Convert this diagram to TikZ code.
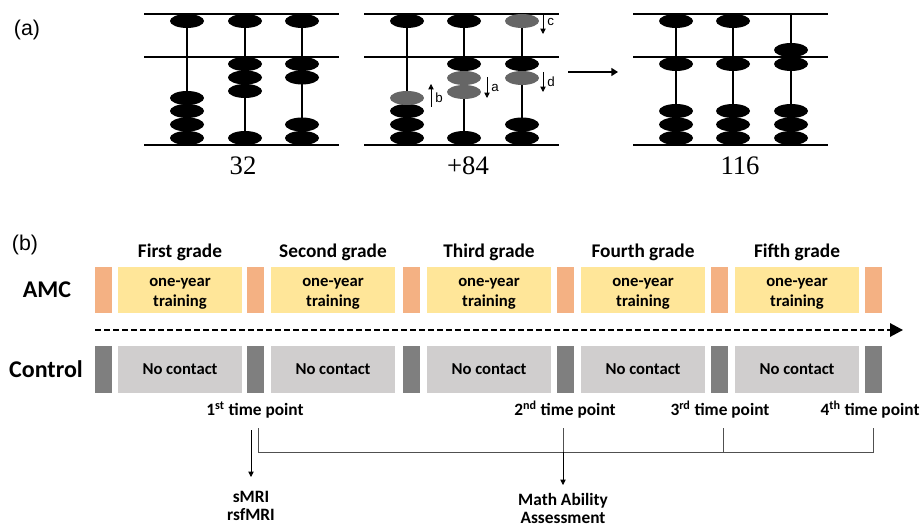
\documentclass[tikz,border=0pt]{standalone}
\usepackage{fontspec}
\setmainfont{Liberation Sans}
\newfontfamily\carlito{Carlito}
\newfontfamily\serifnum{Liberation Serif}
\usetikzlibrary{arrows.meta,positioning,calc}
\tikzset{every picture/.style={line width=0.75pt}}

\definecolor{amcorange}{HTML}{F4B183}
\definecolor{amcyellow}{HTML}{FFE699}
\definecolor{ctrlgray}{HTML}{D0CECE}
\definecolor{ctrldark}{HTML}{7F7F7F}
\definecolor{beadgray}{HTML}{666666}
\definecolor{bracketgray}{HTML}{505050}

\begin{document}
\begin{tikzpicture}[x=0.75pt,y=-0.75pt,
    frame/.style={line width=1.5pt},
    rod/.style={line width=1.3pt},
    movearrow/.style={line width=0.6pt,-{Triangle[length=4pt,width=4pt]}},
    moveletter/.style={font=\fontsize{10}{11}\selectfont,inner sep=1pt},
    cbfont/.style={font=\carlito\bfseries\fontsize{12.5}{15}\selectfont},
    amcside/.style={fill=amcorange,minimum width=12.75pt,minimum height=34.5pt,inner sep=0},
    ctrlside/.style={fill=ctrldark,minimum width=12.75pt,minimum height=35.25pt,inner sep=0},
    trainbox/.style={fill=amcyellow,minimum width=93pt,minimum height=34.5pt,inner sep=0},
    traintext/.style={cbfont,align=center,inner sep=0},
    nobox/.style={cbfont,fill=ctrlgray,minimum width=93pt,minimum height=35.25pt,inner sep=0},
    grade/.style={font=\carlito\bfseries\fontsize{14.5}{16}\selectfont,inner sep=0},
    rowlabel/.style={font=\carlito\bfseries\fontsize{18}{20}\selectfont},
    tplabel/.style={font=\carlito\bfseries\fontsize{13}{13.5}\selectfont,align=center,inner xsep=0},
    bracket/.style={draw=bracketgray,line width=0.75pt},
    tparrow/.style={line width=0.6pt,-{Triangle[length=4pt,width=4pt]}}]
    \useasboundingbox (0,0) rectangle (921,527);

    % 面板标签
    \node[font=\fontsize{16}{18}\selectfont] (pa) at (27,30) {(a)};
    \node[font=\fontsize{16}{18}\selectfont] (pb) at (25,245) {(b)};

    % 算盘框线和档
    \foreach \xa/\ra/\rb/\rc in {144/187/245/302, 364/407/464/522, 633/676/733/791}{
        \draw[frame] (\xa,14) -- ++(195,0);
        \draw[frame] (\xa,57) -- ++(195,0);
        \draw[frame] (\xa,145) -- ++(195,0);
        \foreach \r in {\ra,\rb,\rc}
            \draw[rod] (\r,14) -- (\r,145);
    }

    % 算珠: 32
    \foreach \x/\y in {187/21, 187/98, 187/111, 187/124.5, 187/138,
                       245/21, 245/64, 245/77.5, 245/91, 245/138,
                       302/21, 302/64, 302/77.5, 302/124.5, 302/138}
        \fill (\x,\y) ellipse [x radius=12.75pt, y radius=5.25pt];

    % 算珠: +84 (灰色为拨动的珠)
    \foreach \x/\y in {407/21, 407/111, 407/124.5, 407/138,
                       464/21, 464/64, 464/138,
                       522/64, 522/124.5, 522/138}
        \fill (\x,\y) ellipse [x radius=12.75pt, y radius=5.25pt];
    \foreach \x/\y in {407/98, 464/78, 464/92, 522/21, 522/78}
        \fill[beadgray] (\x,\y) ellipse [x radius=12.75pt, y radius=5.25pt];

    % 拨珠方向
    \draw[movearrow] (431,107) -- (431,84) node[pos=0.4,right=2pt,moveletter] {b};
    \draw[movearrow] (487,77) -- (487,98) node[pos=0.5,right=2pt,moveletter] {a};
    \draw[movearrow] (543,15) -- (543,34) node[pos=0.35,right=2pt,moveletter] {c};
    \draw[movearrow] (543,72) -- (543,92) node[pos=0.5,right=2pt,moveletter] {d};

    % 算珠: 116
    \foreach \x/\y in {676/21, 676/64, 676/111, 676/124.5, 676/138,
                       733/21, 733/64, 733/111, 733/124.5, 733/138,
                       791/50, 791/64, 791/111, 791/124.5, 791/138}
        \fill (\x,\y) ellipse [x radius=12.75pt, y radius=5.25pt];

    \draw[line width=1.2pt,-{Triangle[length=5pt,width=6pt]}] (568,72) -- (618,72);

    % 数字
    \node[font=\serifnum\fontsize{20}{24}\selectfont] (n1) at (243,166) {32};
    \node[font=\serifnum\fontsize{20}{24}\selectfont] (n2) at (468,166) {+84};
    \node[font=\serifnum\fontsize{20}{24}\selectfont] (n3) at (740,166) {116};

    % 两组的年级方块
    \node[rowlabel] (amc) at (47,290) {AMC};
    \node[rowlabel] (ctrl) at (46,369) {Control};
    \foreach \xo/\xy/\g [count=\i] in {95/118/First, 247/271/Second, 403/427/Third, 557/581/Fourth, 711/735/Fifth}{
        \node[amcside] (ao\i) at (\xo+8.5,290) {};
        \node[trainbox] (tr\i) at (\xy+62,290) {};
        \node[traintext] (tt\i) at ([yshift=-3pt]tr\i.center) {one-year\\training};
        \node[ctrlside] (co\i) at (\xo+8.5,369.5) {};
        \node[nobox] (nc\i) at (\xy+62,369.5) {No contact};
        \node[grade,above=4pt of tr\i] (gr\i) {\g\ grade};
    }
    \node[amcside] (ao6) at (873.5,290) {};
    \node[ctrlside] (co6) at (873.5,369.5) {};

    % 时间轴
    \coordinate (ts) at (95,330);
    \coordinate (te) at (903,330);
    \draw[line width=1.5pt,dash pattern=on 4.5pt off 2.25pt,-{Triangle[length=9.75pt,width=10pt]}] (ts) -- (te);

    % 测量时间点
    \node[tplabel] (tp1) at (255,410) {1\textsuperscript{st} time point};
    \node[tplabel] (tp2) at (565,410) {2\textsuperscript{nd} time point};
    \node[tplabel] (tp3) at (720,410) {3\textsuperscript{rd} time point};
    \node[tplabel] (tp4) at (870,410) {4\textsuperscript{th} time point};

    \coordinate (k1) at (258,428);
    \coordinate (k2) at (563,428);
    \coordinate (k3) at (723,428);
    \coordinate (k4) at (873,428);
    \coordinate (b1) at (258,452);
    \coordinate (b2) at (563,452);
    \coordinate (b3) at (723,452);
    \coordinate (b4) at (873,452);
    \draw[bracket] (k1) -- (b1) -- (b4) -- (k4);
    \draw[bracket] (k2) -- (b2);
    \draw[bracket] (k3) -- (b3);

    % 测量内容
    \coordinate (a1) at (251,430);
    \node[tplabel,anchor=north,inner ysep=10pt] (mri) at (251,477) {sMRI\\rsfMRI};
    \draw[tparrow] (a1) -- (mri.north);
    \node[tplabel,anchor=north,inner ysep=6pt] (math) at (563,485) {Math Ability\\Assessment};
    \draw[tparrow] (b2) -- (math.north);
\end{tikzpicture}
\end{document}
